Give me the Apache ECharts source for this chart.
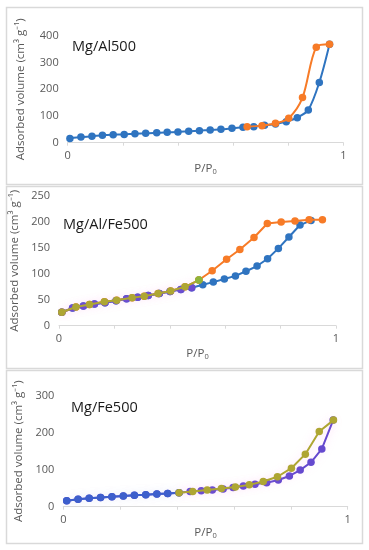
<!DOCTYPE html>
<html><head><meta charset="utf-8">
<script src="https://cdn.jsdelivr.net/npm/echarts@6/dist/echarts.min.js"></script>
<style>html,body{margin:0;padding:0;background:#fff}#c{width:369px;height:550px}</style>
</head><body><div id="c"></div>
<script>
// Panel 1: Mg/Al500
const p1AdsX = [0.008,0.048,0.088,0.126,0.165,0.205,0.244,0.283,0.323,0.361,0.40,0.439,0.478,0.517,0.556,0.596,0.636,0.675,0.714,0.754,0.793,0.833,0.873,0.913,0.95];
const p1AdsY = [16,21,24,28,30,31,34,35,37,39,40,43,45,48,50,54,58,60,65,70,79,94,123,226,369];
const p1DesX = [0.651,0.705,0.754,0.802,0.852,0.902,0.95];
const p1DesY = [60,64,73,92,169,358,369];
// Panel 2: Mg/Al/Fe500
const p2AdsX = [0.01,0.049,0.088,0.128,0.166,0.206,0.244,0.284,0.322,0.362,0.401,0.44,0.479,0.519,0.557,0.597,0.637,0.675,0.715,0.753,0.792,0.83,0.87,0.91];
const p2AdsY = [26,34,38,42,44,48,52,55,58,62,66,70,73,79,84,90,96,105,115,129,149,171,194,203];
const p2DesX = [0.01,0.061,0.11,0.164,0.208,0.264,0.308,0.358,0.403,0.455,0.505,0.553,0.605,0.653,0.704,0.752,0.802,0.852,0.903,0.951];
const p2DesY = [26,36,41,46,49,54,57,62,67,75,88,106,128,147,170,197,200,202,204,204];
// Panel 3: Mg/Fe500
const p3AdsX = [0.012,0.052,0.091,0.131,0.171,0.211,0.25,0.29,0.329,0.367,0.407,0.446,0.485,0.524,0.562,0.597,0.633,0.674,0.715,0.756,0.795,0.833,0.871,0.909,0.949];
const p3AdsY = [16,20,23,25,27,29,31,32,34,36,38,41,43,45,48,52,56,61,65,72,83,99,120,156,234];
const p3DesX = [0.407,0.455,0.506,0.556,0.605,0.654,0.703,0.753,0.802,0.851,0.9,0.95];
const p3DesY = [38,41,45,49,53,59,68,81,104,142,203,234];

const titles = ['Mg/Al500','Mg/Al/Fe500','Mg/Fe500'];
const yMax = [400,250,300];
const yStep = [100,50,100];
const xTicks = ['0','1'];

const pairs = (xs, ys) => xs.map((x,i)=>[x, ys[i]]);

const grids = [
  {left:67.7, top:36, width:275.6, height:106.7},
  {left:59, top:196, width:277, height:129.7},
  {left:63.3, top:395.7, width:284.4, height:111}
];
const xNameGap = [19, 21, 18];
const yNameGap = [41, 37, 35];
const FONT = '"Open Sans", "Liberation Sans", sans-serif';

const xAxes = grids.map((g,i)=>({
  gridIndex:i, type:'value', min:0, max:1, interval:0.2,
  axisLine:{show:true, lineStyle:{color:'#d9d9d9', width:1}},
  axisTick:{show:true, length:3, lineStyle:{color:'#d9d9d9'}},
  splitLine:{show:false},
  axisLabel:{color:'#595959', fontSize:11, fontFamily:FONT, margin:8,
    formatter:v=>{const r=Math.round(v*100)/100; return r===0?xTicks[0]:(r===1?xTicks[1]:'');}},
  name:'{a|P/P}{s|0}', nameLocation:'middle', nameGap:xNameGap[i],
  nameTextStyle:{rich:{a:{color:'#595959',fontSize:11.5,fontFamily:FONT},s:{color:'#595959',fontSize:7.5,fontFamily:FONT,padding:[6,0,0,0]}}}
}));
const yAxes = grids.map((g,i)=>({
  gridIndex:i, type:'value', min:0, max:yMax[i], interval:yStep[i],
  axisLine:{show:false}, axisTick:{show:false}, splitLine:{show:false},
  axisLabel:{color:'#595959', fontSize:11, fontFamily:FONT, margin:9},
  name:'Adsorbed volume (cm\u00B3 g\u207B\u00B9)', nameLocation:'middle', nameGap:yNameGap[i], nameRotate:90,
  nameTextStyle:{color:'#595959', fontSize:11.5, fontFamily:FONT}
}));

function line(idx, data, color, smooth, z, glow){
  return {type:'line', xAxisIndex:idx, yAxisIndex:idx, data:data, smooth:smooth,
    symbol:'circle', symbolSize:7.5, z:z, animation:false,
    itemStyle:{color:color},
    lineStyle:{color:color, width:2, shadowColor:glow||'transparent', shadowBlur:glow?8:0}};
}
const blue='#2f74c0', orange='#f77b27', purple='#6549cf', olive='#aea633', green='#8fb33a', blue3='#3d5fcc';
const pink='rgba(255,150,230,0.35)', cyan='rgba(120,240,255,0.35)';

const a1 = pairs(p1AdsX,p1AdsY), d1 = pairs(p1DesX,p1DesY);
const a2 = pairs(p2AdsX,p2AdsY), d2 = pairs(p2DesX,p2DesY);
const a3 = pairs(p3AdsX,p3AdsY), d3 = pairs(p3DesX,p3DesY);

const series = [
  line(0, a1, blue, 0.3, 2),
  line(0, d1, orange, 0.3, 3),
  line(1, a2, blue, false, 2),
  line(1, d2, orange, false, 3),
  line(1, a2.slice(0,13), purple, false, 4, pink),
  line(1, d2.slice(0,11), olive, false, 5, pink),
  line(1, d2.slice(10,11), green, false, 6),
  line(2, a3, purple, false, 2, pink),
  line(2, a3.slice(0,11), blue3, false, 3, cyan),
  line(2, d3, olive, false, 4, pink)
];

const frames = [[6,7,356,177],[6,186,356,182],[6,370,356,173]];
const titlePos = [[72,47],[63,225],[71,408]];
const graphic = [];
frames.forEach(f=>graphic.push({type:'rect', shape:{x:f[0]+0.5,y:f[1]+0.5,width:f[2],height:f[3]}, style:{fill:'none', stroke:'#d9d9d9', lineWidth:1.5}, silent:true, z:-1}));
titles.forEach((t,i)=>graphic.push({type:'text', x:titlePos[i][0], y:titlePos[i][1], style:{text:t, fill:'#1a1a1a', font:'14.5px '+FONT, textVerticalAlign:'middle'}, z:10}));

const chart = echarts.init(document.getElementById('c'), null, {renderer:'canvas'});
chart.setOption({animation:false, backgroundColor:'#fff', grid:grids, xAxis:xAxes, yAxis:yAxes, series:series, graphic:graphic});
</script></body></html>
